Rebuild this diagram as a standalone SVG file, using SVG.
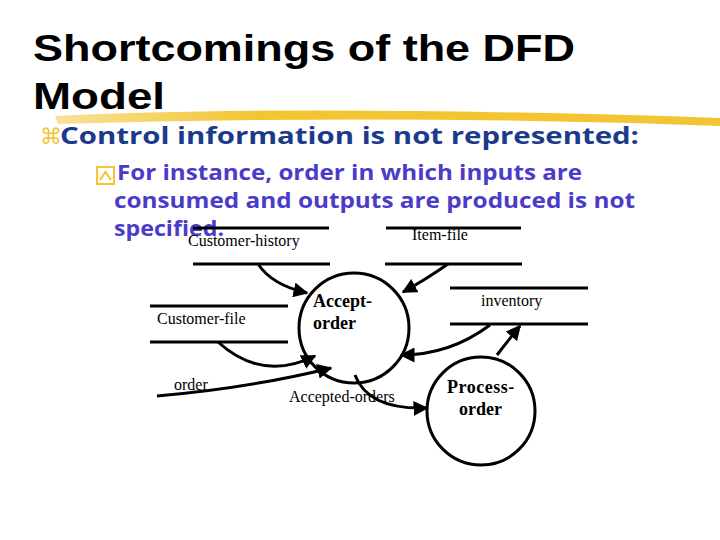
<svg xmlns="http://www.w3.org/2000/svg" width="720" height="540" viewBox="0 0 720 540">
<style>
.st{stroke:#000;stroke-width:3}
.c{fill:#fff;stroke:#000;stroke-width:3}
.a{fill:none;stroke:#000;stroke-width:3;marker-end:url(#ah)}
.l{font-family:"Liberation Serif",serif;font-size:16px;fill:#000}
.p{font-family:"Liberation Serif",serif;font-size:18px;font-weight:bold;fill:#000}
</style>
<defs>
<marker id="ah" viewBox="0 0 10 10" refX="9" refY="5" markerWidth="5" markerHeight="5" orient="auto" markerUnits="strokeWidth"><path d="M0,0L10,5L0,10z" fill="#000"/></marker>
<linearGradient id="y" x1="0" x2="1"><stop offset="0" stop-color="#f3c532" stop-opacity="0.5"/><stop offset="0.3" stop-color="#f3c532"/><stop offset="1" stop-color="#f3c532"/></linearGradient>
</defs>
<rect width="720" height="540" fill="#fff"/>
<path d="M55,116 Q300,104 720,118 L720,126 Q400,114 58,124z" fill="url(#y)"/>
<text x="33" y="61" font-family="Liberation Sans,sans-serif" font-size="36" font-weight="bold" textLength="542" lengthAdjust="spacingAndGlyphs">Shortcomings of the DFD</text>
<text x="33" y="109" font-family="Liberation Sans,sans-serif" font-size="36" font-weight="bold" textLength="132" lengthAdjust="spacingAndGlyphs">Model</text>
<text x="40" y="144" font-family="Noto Sans,sans-serif" font-size="22" fill="#f3c532">⌘</text>
<text x="60" y="144" font-family="Open Sans,sans-serif" font-size="24" font-weight="bold" fill="#1b3a8c" textLength="579" lengthAdjust="spacingAndGlyphs">Control  information is not represented:</text>
<rect x="97" y="167" width="17" height="17" fill="#fff" stroke="#f3c532" stroke-width="2"/>
<path d="M100,180 L105.5,172 L111,180" fill="none" stroke="#f3c532" stroke-width="2"/>
<g font-family="Open Sans,sans-serif" font-size="22" font-weight="bold" fill="#4b3cc8">
<text x="117" y="180" textLength="465" lengthAdjust="spacingAndGlyphs">For instance, order in which inputs are</text>
<text x="114" y="208" textLength="521" lengthAdjust="spacingAndGlyphs">consumed and outputs are produced  is not</text>
<text x="114" y="236" textLength="110" lengthAdjust="spacingAndGlyphs">specified.</text>
</g>
<g id="customer-history"><line class="st" x1="193" y1="228" x2="329" y2="228"/><line class="st" x1="193" y1="264" x2="330" y2="264"/><text class="l" x="188" y="246">Customer-history</text></g>
<g id="item-file"><line class="st" x1="386" y1="228" x2="521" y2="228"/><line class="st" x1="385" y1="264" x2="522" y2="264"/><text class="l" x="412" y="240">Item-file</text></g>
<g id="customer-file"><line class="st" x1="150" y1="306" x2="288" y2="306"/><line class="st" x1="150" y1="342" x2="288" y2="342"/><text class="l" x="157" y="324">Customer-file</text></g>
<g id="inventory"><line class="st" x1="450" y1="288" x2="588" y2="288"/><line class="st" x1="450" y1="324" x2="588" y2="324"/><text class="l" x="481" y="306">inventory</text></g>
<g id="accept-order"><circle class="c" cx="354" cy="328" r="55"/><text class="p" x="313" y="307">Accept-</text><text class="p" x="313" y="329">order</text></g>
<g id="process-order"><circle class="c" cx="481" cy="411" r="54"/><text class="p" x="447" y="393" letter-spacing="0.5">Process-</text><text class="p" x="459" y="415">order</text></g>
<g id="connectors">
<path class="a" d="M258,264 Q272,285 307,293"/>
<path class="a" d="M448,264 Q425,280 403,292"/>
<path class="a" d="M218,342 Q262,382 315,356"/>
<path class="a" d="M157,396 Q250,388 331,368"/>
<text class="l" x="174" y="390">order</text>
<path class="a" d="M355,375 Q368,410 427,408"/>
<text class="l" x="289" y="402">Accepted-orders</text>
<path class="a" d="M497,355 Q510,338 520,326"/>
<path class="a" d="M490,325 Q450,355 401,355"/>
</g>
</svg>
